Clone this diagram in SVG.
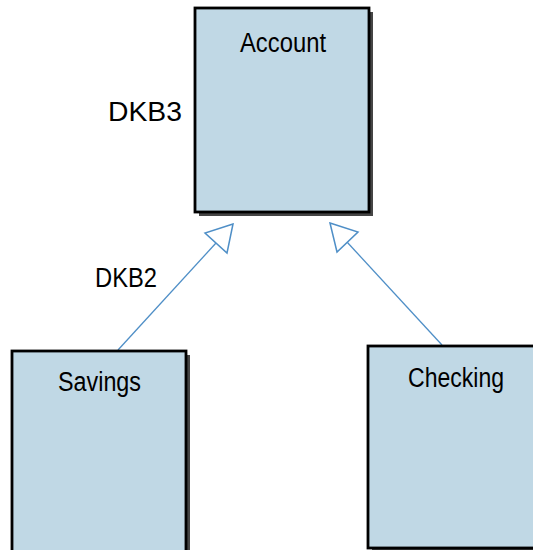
<svg xmlns="http://www.w3.org/2000/svg" width="533" height="550" viewBox="0 0 533 550">
  <defs>
    <style>
      .shadow { fill: #454545; }
      .box { fill: #c0d8e5; stroke: #000; stroke-width: 2.8; }
      .label { font-family: "Liberation Sans", Arial, sans-serif; font-size: 27px; fill: #000; }
      .gen { fill: none; stroke: #4f8fc7; stroke-width: 1.3; }
      .head { fill: #fff; stroke: #4f8fc7; stroke-width: 1.5; }
    </style>
  </defs>

  <!-- generalization connectors -->
  <g id="connectors">
    <line class="gen" x1="118" y1="350" x2="216" y2="243"/>
    <polygon class="head" points="233,224 205,233 227,253"/>
    <line class="gen" x1="442" y1="345" x2="347" y2="242"/>
    <polygon class="head" points="330,223 358,232 337,252"/>
  </g>

  <g id="account">
    <rect class="shadow" x="199" y="12" width="174" height="204"/>
    <rect class="box" x="195" y="8" width="174" height="204"/>
    <text class="label" x="240" y="51.5" textLength="86" lengthAdjust="spacingAndGlyphs">Account</text>
  </g>

  <g id="savings">
    <rect class="shadow" x="16" y="355" width="174" height="220"/>
    <rect class="box" x="12" y="351" width="174" height="220"/>
    <text class="label" x="58" y="391" textLength="83" lengthAdjust="spacingAndGlyphs">Savings</text>
  </g>

  <g id="checking">
    <rect class="shadow" x="372" y="350" width="174" height="202"/>
    <rect class="box" x="368" y="346" width="174" height="202"/>
    <text class="label" x="408" y="387" textLength="96" lengthAdjust="spacingAndGlyphs">Checking</text>
  </g>

  <g id="role-labels">
    <text class="label" x="108" y="121" textLength="74" lengthAdjust="spacingAndGlyphs">DKB3</text>
    <text class="label" x="95" y="287" textLength="62" lengthAdjust="spacingAndGlyphs">DKB2</text>
  </g>
</svg>
